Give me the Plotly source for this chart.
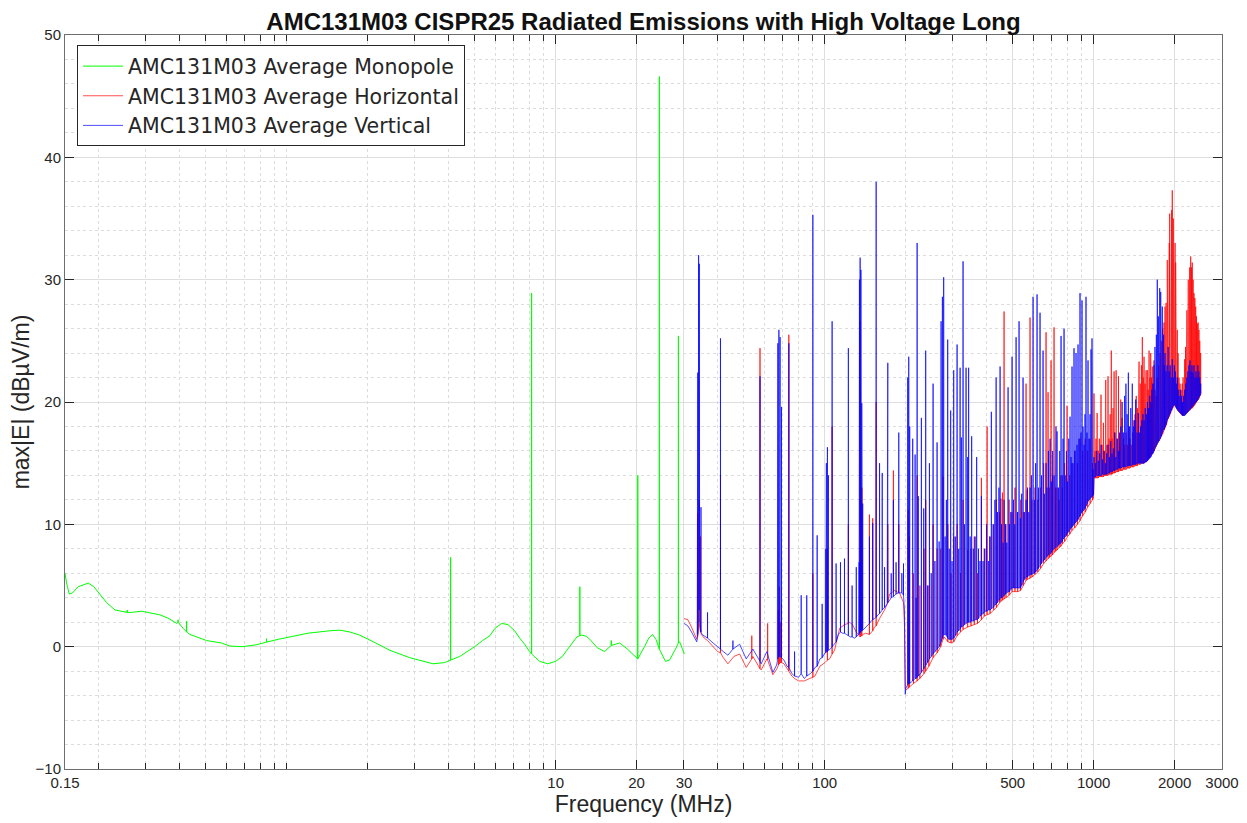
import math
import plotly.graph_objects as go

# ---------------------------------------------------------------------------
# Data.
# Each row: (frequency MHz, floor level dBuV/m, peak level dBuV/m).
# A row whose peak equals its floor is a plain point of the noise floor;
# otherwise the trace rises vertically to the peak and returns to the floor.
# ---------------------------------------------------------------------------

MONOPOLE = [
    (0.150, 6.0, 6.0), (0.152, 5.2, 5.2), (0.1556, 4.3, 4.3), (0.160, 4.4, 4.4),
    (0.168, 4.9, 4.9), (0.183, 5.2, 5.2), (0.192, 4.9, 4.9), (0.200, 4.4, 4.4),
    (0.2143, 3.6, 3.6), (0.2301, 3.0, 3.0), (0.2557, 2.8, 3.0), (0.2653, 2.8, 2.8),
    (0.289, 2.9, 2.9), (0.338, 2.6, 2.6), (0.365, 2.3, 2.3), (0.390, 1.9, 1.9),
    (0.395, 2.0, 2.2), (0.4125, 1.5, 1.5), (0.4248, 1.2, 2.1), (0.437, 1.0, 1.0),
    (0.504, 0.5, 0.5), (0.573, 0.3, 0.3), (0.615, 0.05, 0.05), (0.687, 0.0, 0.0),
    (0.77, 0.15, 0.15), (0.842, 0.37, 0.65), (0.93, 0.6, 0.6), (1.028, 0.8, 0.8),
    (1.2, 1.1, 1.1), (1.45, 1.3, 1.3), (1.576, 1.35, 1.35), (1.72, 1.2, 1.2),
    (1.87, 0.94, 0.94), (2.1, 0.4, 0.4), (2.42, -0.3, -0.3), (2.87, -0.9, -0.9),
    (3.50, -1.4, -1.4), (3.87, -1.3, -1.3), (4.07, -1.1, 7.3), (4.40, -0.8, -0.8),
    (5.0, 0.0, 0.0), (5.35, 0.5, 0.5), (5.7, 0.9, 0.9), (5.95, 1.5, 1.5),
    (6.3, 1.9, 1.9), (6.65, 1.8, 1.8), (7.04, 1.3, 1.3), (7.35, 0.7, 0.7),
    (7.67, 0.2, 0.2), (8.0, -0.4, -0.4), (8.14, -0.6, 28.9), (8.72, -1.2, -1.2),
    (9.34, -1.4, -1.4), (10.0, -1.2, -1.2), (10.6, -0.8, -0.8), (11.0, -0.3, -0.3),
    (11.5, 0.3, 0.3), (12.0, 0.8, 0.8), (12.3, 0.9, 4.9), (12.5, 0.95, 0.95),
    (13.0, 0.85, 0.85), (13.4, 0.6, 0.6), (13.9, 0.2, 0.2), (14.3, -0.1, -0.1),
    (15.2, -0.4, -0.4), (16.1, 0.1, 0.5), (17.3, 0.3, 0.3), (18.5, -0.2, -0.2),
    (20.2, -1.0, 14.0), (21.4, 0.0, 0.0), (22.2, 0.7, 0.7), (22.9, 1.0, 1.0),
    (23.6, 0.6, 0.6), (24.3, -0.2, 46.6), (25.6, -1.2, -1.2), (26.5, -1.1, -1.1),
    (27.9, -0.2, -0.2), (28.6, 0.3, 25.4), (28.9, 0.4, 0.4), (30.1, -0.6, -0.6),
]

HORIZ_LOW = [  # 30-200 MHz
    (30.0, 2.3, 2.3), (31.0, 2.2, 2.2), (32.0, 1.6, 1.6), (33.0, 0.9, 0.9),
    (33.45, 0.6, 0.6), (33.7, 0.8, 10.9), (33.95, 1.5, 7.0), (34.15, 2.0, 12.0),
    (34.35, 1.5, 6.0), (34.55, 1.2, 9.0), (34.8, 1.0, 1.0), (35.7, 0.7, 0.7),
    (36.7, 0.5, 0.5), (38.5, 0.0, 0.0), (40.0, -0.4, -0.4), (41.0, -0.5, 14.0),
    (42.0, -0.9, -0.9), (43.7, -1.4, -1.4), (46.0, -0.8, -0.8), (48.3, -0.6, -0.6),
    (51.1, -1.7, -1.7), (53.6, -1.0, 0.9), (54.1, -0.8, -0.8), (57.5, -1.8, 24.4),
    (58.1, -1.9, -1.9), (61.0, -1.0, -1.0), (61.4, -1.1, 1.9), (64.2, -2.3, -2.3),
    (66.5, -1.8, -1.8), (67.3, -1.5, 3.0), (67.8, -1.4, 4.9), (68.4, -1.3, 2.0),
    (69.1, -1.3, 3.5), (70.6, -1.4, -1.4), (72.5, -1.8, -1.8), (73.6, -2.0, 25.5),
    (75.5, -2.4, -2.4), (77.3, -2.6, -2.6), (80.0, -2.8, -2.8), (84.0, -2.8, -2.8),
    (88.0, -2.6, -2.6), (90.4, -2.5, 6.0), (92.0, -2.4, -2.4), (96.0, -1.6, -1.6),
    (100.3, -1.3, -1.3), (102.4, -1.1, 8.0), (104.3, -1.0, -1.0), (106.6, -0.6, 18.0),
    (108.8, -0.3, -0.3), (113.7, 1.5, 1.5), (118.5, 1.8, 1.8), (122.5, 1.9, 10.0),
    (123.6, 2.0, 2.0), (127.0, 1.8, 1.8), (131.0, 1.2, 1.2), (134.7, 0.8, 0.8),
    (135.5, 0.8, 26.6), (136.5, 0.9, 12.0), (137.5, 0.9, 13.0), (139.0, 1.0, 1.0),
    (142.0, 1.1, 1.1), (146.7, 1.0, 10.8), (150.9, 1.3, 10.5), (153.1, 1.6, 1.6),
    (155.4, 1.7, 20.0), (160.0, 2.3, 2.3), (167.0, 3.0, 3.0), (171.7, 3.6, 10.0),
    (174.2, 4.3, 4.3), (180.1, 4.5, 14.4), (181.8, 4.6, 4.6), (188.6, 4.4, 10.0),
    (189.8, 4.4, 4.4), (196.4, 3.6, 3.6), (198.2, 1.5, 1.5), (199.4, -3.4, -3.4),
    (200.5, -3.5, -3.5),
]

HORIZ_MID = [  # 200-1000 MHz
    (201.5, -3.5, -3.5), (204.5, -3.4, 11.2), (206.5, -3.3, 9.0), (209.0, -3.2, -3.2),
    (214.0, -3.0, 6.0), (220.7, -2.8, 14.0), (226.0, -2.6, 5.0), (234.0, -2.2, 8.0),
    (237.5, -2.0, 12.0), (244.0, -1.6, 5.0), (253.0, -0.9, 10.0), (262.0, -0.5, 8.0),
    (270.0, 0.0, 8.0), (275.5, 0.6, 13.9), (278.0, 0.8, 0.8), (287.0, 0.4, 10.0),
    (295.0, 0.3, 6.0), (302.0, 0.4, 9.0), (311.0, 0.9, 10.0), (320.0, 1.2, 6.0),
    (327.0, 1.4, 12.0), (340.2, 1.6, 7.9), (350.0, 1.7, 8.0), (360.0, 1.8, 9.0),
    (370.0, 1.9, 6.0), (382.5, 2.2, 13.8), (392.0, 2.5, 8.0), (401.7, 2.6, 18.0),
    (412.0, 2.7, 9.0), (425.0, 3.0, 10.0), (435.0, 3.2, 12.0), (447.0, 3.6, 11.0),
    (452.0, 3.7, 12.1), (458.0, 3.8, 12.6), (464.5, 3.9, 27.4), (472.0, 4.0, 10.0),
    (485.0, 4.2, 12.0), (497.0, 4.5, 11.0), (510.0, 4.5, 13.0), (522.0, 4.5, 11.0),
    (535.0, 4.6, 12.0), (548.0, 5.0, 11.0), (560.7, 5.4, 21.5), (566.0, 5.5, 12.8),
    (580.2, 5.6, 26.9), (590.0, 5.7, 12.0), (605.0, 5.9, 13.0), (620.0, 6.1, 12.0),
    (635.0, 6.4, 13.0), (652.0, 6.8, 15.0), (665.4, 7.0, 25.7), (676.8, 7.2, 20.8),
    (685.0, 7.3, 13.0), (694.4, 7.4, 23.4), (703.0, 7.5, 14.0), (712.5, 7.7, 26.1),
    (722.0, 7.8, 13.0), (731.0, 7.9, 13.0), (743.7, 8.1, 12.0), (755.0, 8.2, 14.0),
    (765.0, 8.4, 13.0), (780.0, 8.6, 15.0), (796.3, 8.9, 19.7), (800.0, 9.0, 16.3),
    (815.0, 9.2, 14.0), (830.0, 9.5, 15.0), (850.0, 9.7, 16.0), (870.0, 10.0, 15.0),
    (890.0, 10.3, 17.0), (910.0, 10.7, 16.0), (930.0, 11.0, 17.0), (950.0, 11.4, 16.0),
    (970.0, 11.7, 17.0), (990.0, 12.0, 15.0), (999.0, 12.1, 12.1),
]

HORIZ_HIGH = [  # 1000-2500 MHz
    (1003, 13.8, 20.7), (1012, 13.8, 16.0), (1020, 13.8, 17.0), (1030, 13.8, 19.1),
    (1040, 13.8, 16.0), (1050, 13.9, 17.0), (1065, 13.9, 20.6), (1075, 13.9, 16.5),
    (1087, 13.9, 18.3), (1098, 14.0, 16.0), (1109, 14.0, 21.8), (1120, 14.0, 16.5),
    (1131, 14.0, 22.1), (1141, 14.1, 17.0), (1152, 14.1, 19.0), (1163, 14.1, 24.2),
    (1171, 14.1, 17.0), (1180, 14.2, 19.5), (1191, 14.2, 22.5), (1201, 14.2, 17.5),
    (1212, 14.3, 22.6), (1225, 14.3, 17.0), (1237, 14.3, 22.1), (1250, 14.4, 16.5),
    (1261, 14.4, 20.2), (1275, 14.4, 18.7), (1290, 14.5, 17.0), (1305, 14.5, 16.5),
    (1320, 14.5, 17.5), (1335, 14.6, 16.5), (1350, 14.6, 18.0), (1365, 14.6, 17.0),
    (1380, 14.7, 16.5), (1395, 14.7, 17.5), (1410, 14.7, 18.5), (1425, 14.8, 19.0),
    (1440, 14.8, 20.5), (1455, 14.8, 19.5), (1466, 14.9, 21.0), (1475, 14.9, 23.3),
    (1490, 14.9, 21.5), (1505, 15.0, 23.0), (1517, 15.0, 25.3), (1528, 15.0, 22.0),
    (1539, 15.0, 23.7), (1552, 15.1, 21.5), (1566, 15.1, 22.6), (1583, 15.2, 22.6),
    (1595, 15.3, 21.0), (1607, 15.4, 24.2), (1618, 15.5, 22.0), (1630, 15.6, 24.0),
    (1641, 15.7, 22.0), (1652, 15.8, 22.9), (1665, 15.9, 21.5), (1676, 16.0, 23.4),
    (1690, 16.2, 21.0), (1706, 16.4, 20.5), (1724, 16.6, 22.0), (1745, 16.8, 23.0),
    (1765, 17.0, 24.0), (1785, 17.2, 25.0), (1805, 17.4, 26.0), (1826, 17.7, 26.5),
    (1842, 17.9, 27.8), (1860, 18.1, 28.1), (1878, 18.4, 31.6), (1890, 18.6, 30.0),
    (1900, 18.7, 31.6), (1910, 18.8, 33.0), (1917, 18.9, 35.4), (1928, 19.0, 33.5),
    (1940, 19.2, 35.0), (1950, 19.3, 35.7), (1960, 19.4, 37.3), (1968, 19.5, 36.0),
    (1978, 19.6, 35.0), (1989, 19.7, 34.3), (1998, 19.7, 32.5), (2008, 19.7, 33.0),
    (2018, 19.6, 31.4), (2030, 19.5, 29.5), (2046, 19.4, 25.9), (2060, 19.3, 24.0),
    (2076, 19.2, 22.0), (2095, 19.1, 21.5), (2115, 19.0, 21.0), (2135, 18.9, 21.5),
    (2150, 18.9, 22.0), (2167, 18.9, 21.2), (2180, 19.0, 23.5), (2195, 19.0, 24.5),
    (2210, 19.1, 25.9), (2222, 19.1, 27.5), (2235, 19.2, 29.0), (2248, 19.2, 30.0),
    (2261, 19.3, 30.8), (2275, 19.3, 31.0), (2287, 19.4, 30.5), (2295, 19.4, 31.9),
    (2310, 19.5, 31.0), (2326, 19.5, 31.4), (2343, 19.6, 30.0), (2360, 19.7, 28.9),
    (2378, 19.8, 28.5), (2395, 19.9, 27.8), (2412, 20.0, 27.0), (2428, 20.1, 26.4),
    (2445, 20.2, 26.5), (2463, 20.3, 25.9), (2480, 20.5, 25.0), (2499, 20.6, 24.0),
]

VERT_LOW = [  # 30-200 MHz
    (30.0, 1.9, 1.9), (31.0, 1.7, 1.7), (32.0, 1.2, 1.2), (33.0, 0.7, 0.7),
    (33.45, 0.4, 0.4), (33.6, 0.6, 12.8), (33.75, 1.0, 22.4), (33.9, 2.0, 14.0),
    (34.0, 3.0, 32.0), (34.1, 3.0, 21.0), (34.2, 3.0, 31.3), (34.3, 2.0, 19.0),
    (34.4, 2.0, 21.0), (34.55, 1.5, 7.0), (34.7, 1.2, 11.4), (35.0, 1.0, 1.0),
    (35.7, 0.9, 0.9), (36.7, 0.7, 2.8), (38.5, 0.3, 0.3), (39.6, 0.1, 0.1),
    (41.0, -0.2, 25.2), (42.0, -0.4, -0.4), (43.7, -0.7, -0.7), (45.6, -0.2, 0.5),
    (48.3, 0.2, 0.2), (51.1, -1.0, -1.0), (54.1, -0.2, -0.2), (57.5, -1.2, 22.1),
    (58.1, -1.4, -1.4), (61.0, -0.4, -0.4), (64.2, -2.1, -2.1), (66.3, -1.5, -1.5),
    (66.7, -1.2, 3.8), (67.0, -1.0, 24.8), (67.3, -0.8, 6.0), (67.6, -0.8, 25.9),
    (68.0, -0.8, 8.0), (68.3, -0.8, 25.3), (68.7, -0.8, 4.0), (69.1, -0.9, 19.6),
    (70.6, -1.1, -1.1), (72.5, -1.6, -1.6), (73.6, -1.7, 24.8), (75.5, -2.2, -2.2),
    (77.3, -2.4, -0.4), (80.0, -2.5, -2.5), (81.8, -2.2, 4.2), (84.0, -2.6, -2.6),
    (85.8, -2.4, 4.2), (88.5, -2.2, -2.2), (90.4, -2.0, 35.3), (92.0, -1.7, -1.7),
    (93.8, -1.6, 9.1), (96.0, -1.0, -1.0), (97.9, -0.9, 3.5), (100.3, -0.5, -0.5),
    (101.0, -0.5, 8.0), (101.5, -0.4, 15.0), (102.0, -0.4, 6.0), (102.4, -0.4, 16.3),
    (102.9, -0.3, 4.0), (103.3, -0.3, 14.0), (105.0, -0.2, -0.2), (106.6, 0.0, 26.6),
    (108.5, 0.2, 0.2), (110.3, 0.4, 6.8), (112.5, 1.0, 1.0), (114.5, 1.2, 6.9),
    (116.5, 1.1, 1.1), (118.5, 1.1, 7.2), (120.5, 1.0, 1.0), (122.5, 0.9, 24.4),
    (124.5, 0.8, 0.8), (126.5, 0.8, 5.0), (129.0, 0.7, 0.7), (131.1, 0.8, 6.5),
    (133.5, 1.0, 1.0), (134.3, 1.0, 6.9), (134.7, 1.1, 30.0), (135.1, 1.1, 22.0),
    (135.5, 1.2, 31.8), (135.9, 1.2, 25.0), (136.4, 1.2, 30.8), (136.9, 1.3, 12.0),
    (137.4, 1.3, 19.9), (138.0, 1.3, 7.0), (138.5, 1.4, 11.7), (139.5, 1.4, 1.4),
    (142.0, 1.6, 1.6), (144.5, 1.8, 1.8), (146.7, 1.9, 9.0), (149.0, 2.1, 2.1),
    (150.9, 2.2, 10.1), (153.2, 2.3, 2.3), (155.4, 2.4, 38.0), (157.8, 2.6, 2.6),
    (160.0, 2.7, 15.0), (163.7, 3.0, 14.2), (167.0, 3.2, 6.5), (170.8, 3.5, 9.0),
    (171.7, 3.6, 23.2), (174.5, 3.8, 3.8), (176.8, 4.0, 6.0), (180.1, 4.1, 12.0),
    (184.3, 4.3, 6.9), (188.6, 4.4, 17.5), (191.0, 4.4, 4.4), (193.6, 4.4, 6.0),
    (196.4, 4.2, 6.8), (198.0, 3.0, 3.0), (199.3, -3.9, -3.9), (200.5, -3.4, -3.4),
]

VERT_MID = [  # 200-1000 MHz
    (203.6, -3.1, 22.0), (205.4, -3.0, 23.7), (207.1, -3.0, 18.0),
    (212.5, -2.8, 17.0), (216.9, -2.6, 15.7), (218.8, -2.6, 4.0),
    (220.7, -2.5, 33.0), (222.9, -2.4, 12.3), (228.9, -2.1, 18.7),
    (233.5, -1.8, 11.3), (237.5, -1.5, 24.2), (241.0, -1.3, 5.0),
    (245.2, -1.0, 15.0), (249.0, -0.8, 6.0), (253.0, -0.6, 21.5), (257.0, -0.4, 7.0),
    (261.8, -0.2, 16.7), (266.4, 0.0, 8.6), (270.9, 0.4, 26.6), (274.0, 0.7, 28.6),
    (277.0, 1.0, 30.2), (280.5, 1.0, 9.0), (283.5, 0.9, 12.0), (286.7, 0.7, 25.1),
    (290.5, 0.6, 8.0), (294.1, 0.6, 19.3), (297.5, 0.6, 7.0), (301.8, 0.7, 22.6),
    (306.0, 0.9, 9.0), (310.7, 1.2, 24.7), (315.0, 1.3, 8.0), (318.8, 1.5, 22.8),
    (322.3, 1.6, 17.1), (327.0, 1.7, 31.5), (331.0, 1.8, 10.0), (335.5, 1.9, 22.8),
    (340.2, 2.0, 15.5), (343.0, 2.0, 22.8), (347.5, 2.0, 9.0), (352.0, 2.1, 17.2),
    (357.0, 2.1, 8.0), (362.5, 2.2, 9.0), (367.4, 2.2, 15.5), (373.0, 2.3, 8.0),
    (378.0, 2.5, 7.0), (382.5, 2.6, 12.3), (388.0, 2.7, 7.0), (394.0, 2.9, 8.0),
    (400.0, 2.9, 10.0), (406.0, 3.0, 7.0), (411.0, 3.0, 9.0), (416.6, 3.1, 19.2),
    (423.0, 3.2, 10.0), (429.5, 3.4, 12.0), (434.0, 3.5, 22.0), (439.0, 3.6, 11.0),
    (444.5, 3.8, 13.0), (448.9, 4.0, 22.9), (454.5, 4.0, 10.0), (460.5, 4.1, 8.5),
    (464.5, 4.2, 12.0), (470.0, 4.3, 10.0), (475.5, 4.4, 8.5), (480.7, 4.5, 21.2),
    (486.5, 4.5, 10.0), (492.0, 4.7, 11.0), (497.4, 4.8, 23.7),
    (503.5, 4.8, 12.0), (509.0, 4.8, 10.0), (514.8, 4.8, 25.3), (521.0, 4.8, 11.0),
    (528.1, 4.8, 26.6), (534.0, 4.8, 10.5), (540.0, 5.0, 12.5), (546.5, 5.3, 22.0),
    (553.0, 5.5, 11.0), (560.7, 5.7, 12.0), (567.5, 5.7, 13.0), (574.0, 5.8, 11.0),
    (580.2, 5.9, 13.0), (587.0, 5.9, 14.0), (595.3, 6.0, 28.6), (602.0, 6.0, 12.0),
    (608.5, 6.1, 15.0), (616.0, 6.3, 28.8), (623.5, 6.4, 13.0), (632.0, 6.7, 27.3),
    (640.0, 6.8, 14.0), (648.5, 7.0, 24.2), (656.0, 7.1, 12.5), (665.4, 7.3, 15.0),
    (671.0, 7.4, 13.0), (679.0, 7.5, 16.0), (688.5, 7.6, 17.0), (696.0, 7.7, 13.5),
    (704.0, 7.9, 16.0), (712.5, 8.0, 14.0), (720.0, 8.1, 13.5), (724.5, 8.1, 18.0),
    (731.0, 8.2, 17.6), (740.0, 8.3, 13.0), (748.0, 8.4, 16.0), (756.5, 8.5, 25.4),
    (764.0, 8.6, 14.0), (769.5, 8.8, 17.0), (776.2, 8.9, 26.0), (784.0, 9.0, 14.0),
    (792.0, 9.1, 16.0), (800.0, 9.3, 13.5), (808.0, 9.4, 17.0), (817.0, 9.6, 18.8),
    (824.0, 9.7, 15.5), (831.0, 9.8, 22.9), (838.0, 9.9, 15.0), (845.4, 10.0, 24.4),
    (852.5, 10.1, 16.0), (860.0, 10.2, 24.0), (867.5, 10.3, 16.5), (874.8, 10.4, 24.7),
    (882.0, 10.6, 17.0), (889.9, 10.7, 28.9), (897.5, 10.9, 17.5), (905.2, 11.0, 28.3),
    (913.0, 11.1, 18.0), (921.0, 11.2, 16.5), (928.5, 11.3, 19.0), (936.7, 11.5, 28.6),
    (944.5, 11.7, 17.5), (952.9, 11.9, 23.4), (961.0, 12.0, 17.0), (969.5, 12.1, 19.0),
    (977.6, 12.2, 24.3), (982.0, 12.2, 17.0), (986.0, 12.2, 25.2), (990.5, 12.3, 16.0),
    (995.5, 12.3, 14.5), (999.0, 12.4, 12.4),
]

VERT_HIGH = [  # 1000-2500 MHz
    (1003, 13.9, 15.5), (1015, 13.9, 15.0), (1027, 14.0, 16.0), (1040, 14.0, 15.2),
    (1053, 14.0, 15.8), (1066, 14.0, 16.5), (1079, 14.1, 15.3), (1092, 14.1, 16.0),
    (1105, 14.1, 15.0), (1118, 14.1, 15.8), (1131, 14.2, 16.5), (1144, 14.2, 15.5),
    (1157, 14.3, 16.8), (1170, 14.3, 15.8), (1183, 14.4, 16.2), (1196, 14.4, 17.5),
    (1209, 14.5, 15.5), (1222, 14.5, 17.0), (1235, 14.6, 16.0), (1248, 14.6, 17.5),
    (1262, 14.6, 18.0), (1276, 14.7, 20.0), (1290, 14.7, 17.5), (1304, 14.7, 20.5),
    (1318, 14.7, 21.5), (1332, 14.8, 19.0), (1346, 14.8, 22.4), (1360, 14.8, 18.0),
    (1374, 14.8, 19.5), (1392, 14.9, 21.5), (1408, 14.9, 18.0), (1420, 14.9, 18.5),
    (1433, 14.9, 20.2), (1450, 15.0, 17.5), (1466, 15.0, 19.1), (1480, 15.0, 17.5),
    (1495, 15.0, 18.0), (1510, 15.0, 18.5), (1525, 15.0, 19.0), (1540, 15.0, 18.5),
    (1555, 15.1, 19.5), (1570, 15.1, 19.0), (1585, 15.2, 20.0), (1600, 15.3, 19.5),
    (1615, 15.4, 20.5), (1630, 15.5, 20.0), (1645, 15.7, 21.0), (1660, 15.8, 21.5),
    (1676, 16.0, 23.0), (1690, 16.2, 24.5), (1700, 16.3, 22.5), (1710, 16.4, 25.5),
    (1718, 16.5, 23.0), (1724, 16.6, 30.0), (1732, 16.7, 23.5), (1740, 16.7, 27.0),
    (1748, 16.8, 24.0), (1760, 16.9, 29.3), (1768, 17.0, 24.5), (1775, 17.1, 29.0),
    (1785, 17.2, 24.0), (1795, 17.4, 26.5), (1800, 17.5, 27.8), (1810, 17.6, 23.5),
    (1820, 17.7, 25.5), (1830, 17.8, 23.0), (1842, 18.0, 24.0), (1858, 18.2, 22.5),
    (1875, 18.5, 23.0), (1892, 18.7, 24.5), (1908, 18.9, 22.5), (1925, 19.1, 23.0),
    (1942, 19.3, 22.0), (1960, 19.5, 23.5), (1978, 19.7, 22.0), (1995, 19.8, 23.0),
    (2012, 19.7, 22.5), (2030, 19.5, 21.5), (2046, 19.4, 22.0), (2062, 19.3, 21.0),
    (2080, 19.2, 20.5), (2100, 19.1, 21.0), (2120, 19.0, 20.5), (2140, 18.9, 20.0),
    (2160, 18.9, 20.5), (2180, 18.9, 21.0), (2200, 19.0, 21.5), (2220, 19.1, 22.0),
    (2240, 19.2, 22.5), (2260, 19.3, 23.0), (2280, 19.4, 23.4), (2300, 19.5, 22.5),
    (2320, 19.6, 23.0), (2340, 19.7, 22.4), (2360, 19.8, 23.0), (2380, 19.9, 22.0),
    (2400, 20.0, 22.5), (2420, 20.1, 22.0), (2440, 20.2, 23.0), (2460, 20.4, 22.5),
    (2480, 20.5, 22.0), (2500, 20.7, 21.5),
]

X_TICKS = [0.15, 10, 20, 30, 100, 500, 1000, 2000, 3000]
X_TICK_TEXT = ["0.15", "10", "20", "30", "100", "500", "1000", "2000", "3000"]
X_MINOR = [0.2, 0.3, 0.4, 0.5, 0.6, 0.7, 0.8, 0.9, 1, 2, 3, 4, 5, 6, 7, 8, 9,
           40, 50, 60, 70, 80, 90, 200, 300, 400, 600, 700, 800, 900]
Y_TICKS = [-10, 0, 10, 20, 30, 40, 50]

SERIES = [
    ("AMC131M03 Average Monopole", "#00ff00", 1.0, [MONOPOLE]),
    ("AMC131M03 Average Horizontal", "#ff0000", 0.7, [HORIZ_LOW, HORIZ_MID, HORIZ_HIGH]),
    ("AMC131M03 Average Vertical", "#0000ff", 0.7, [VERT_LOW, VERT_MID, VERT_HIGH]),
]


def to_polyline(bands):
    xs, ys = [], []
    for band in bands:
        for f, lo, hi in band:
            xs.append(f)
            ys.append(lo)
            if hi != lo:
                xs += [f, f]
                ys += [hi, lo]
    return xs, ys


FONT = "Liberation Sans, Arial, Helvetica, sans-serif"
AX = "#262626"

fig = go.Figure()
for name, color, width, bands in SERIES:
    xs, ys = to_polyline(bands)
    fig.add_trace(go.Scatter(x=xs, y=ys, mode="lines", name=name,
                             line=dict(color=color, width=width)))

# the page body adds an 8 px offset, margins compensate for it
fig.update_layout(
    width=1247, height=823,
    margin=dict(l=57, r=33, t=27, b=62, autoexpand=False),
    paper_bgcolor="white", plot_bgcolor="white",
    font=dict(family=FONT, color=AX),
    title=dict(text="<b>AMC131M03 CISPR25 Radiated Emissions with High Voltage Long</b>",
               x=0.5, xref="paper", xanchor="center",
               y=1.0, yref="container", yanchor="top", pad=dict(t=5),
               font=dict(size=24, color="#111111", family=FONT)),
    showlegend=True,
    legend=dict(x=0.0104, y=0.986, xanchor="left", yanchor="top",
                bgcolor="white", bordercolor=AX, borderwidth=1,
                font=dict(size=20.5, color=AX, family="DejaVu Sans, " + FONT),
                tracegroupgap=0, itemwidth=40),
)

fig.update_xaxes(
    type="log", automargin=False,
    range=[math.log10(0.15), math.log10(3000)],
    tickmode="array", tickvals=X_TICKS, ticktext=X_TICK_TEXT,
    ticks="inside", ticklen=9, tickwidth=1, tickcolor=AX,
    tickfont=dict(size=15, color=AX, family=FONT),
    showline=True, linecolor="#6e6e6e", linewidth=1, mirror="allticks",
    showgrid=True, gridcolor="#dedede", gridwidth=1, zeroline=False,
    minor=dict(tickvals=X_MINOR, ticks="inside", ticklen=6, tickcolor=AX,
               showgrid=True, gridcolor="#dcdcdc", griddash="dot", gridwidth=1),
    title=dict(text="Frequency (MHz)", font=dict(size=23, color=AX, family=FONT),
               standoff=3),
)

fig.update_yaxes(
    automargin=False,
    range=[-10, 50],
    tickmode="array", tickvals=Y_TICKS,
    ticks="inside", ticklen=9, tickwidth=1, tickcolor=AX,
    tickfont=dict(size=15, color=AX, family=FONT),
    showline=True, linecolor="#6e6e6e", linewidth=1, mirror="allticks",
    showgrid=True, gridcolor="#dedede", gridwidth=1, zeroline=False,
    minor=dict(dtick=2, tick0=0, ticks="", showgrid=True, gridcolor="#dcdcdc",
               griddash="dot", gridwidth=1),
    title=dict(text="max|E| (dBµV/m)", font=dict(size=23, color=AX, family=FONT),
               standoff=4),
)

fig.write_html("out.html")
